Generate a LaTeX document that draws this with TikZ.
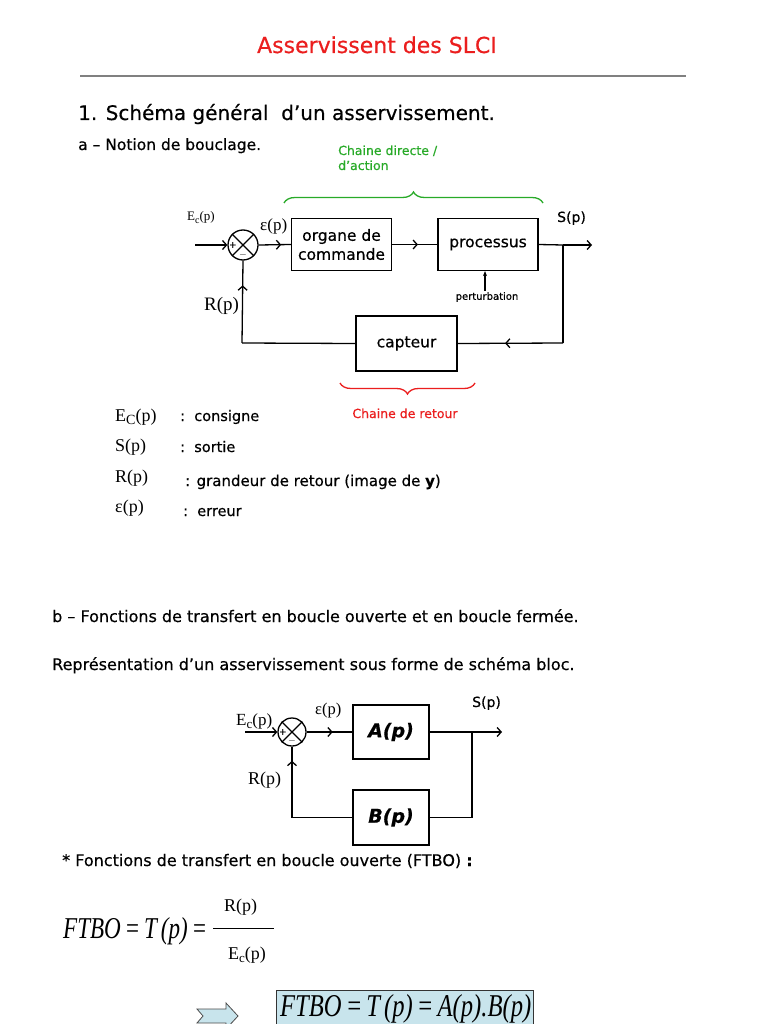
\documentclass[tikz,border=0pt]{standalone}
\usepackage{fontspec}
\setmainfont{DejaVu Sans}[FakeBold=0.5]
\newfontfamily\tm{Liberation Serif}
\usetikzlibrary{arrows.meta,decorations.pathreplacing,decorations.markings}
\definecolor{grn}{RGB}{40,170,40}
\definecolor{rd}{RGB}{235,30,30}
\definecolor{lblue}{RGB}{200,228,236}
\tikzset{
  blk/.style={draw,line width=1.2pt,minimum width=#1,inner sep=0pt,align=center,font=\fontsize{15.5}{19}\selectfont},
  blk/.default=100pt,
  sumj/.style={draw,circle,line width=1.3pt,minimum size=30pt,inner sep=0pt},
  wire/.style={line width=1.3pt},
  midarr/.style={wire,postaction={decorate},decoration={markings,mark=at position #1 with {\arrow{Straight Barb[length=4pt,width=9pt,line width=1.3pt]}}}},
  endarr/.style={wire,-{Straight Barb[length=4pt,width=9pt,line width=1.3pt]}},
  txt/.style={anchor=base west,inner sep=0pt,font=\fontsize{#1}{#1}\selectfont},
  tmx/.style={anchor=base west,inner sep=0pt,font=\tm\fontsize{#1}{#1}\selectfont},
}
\newcommand{\sumcross}[1]{%
  \draw[line width=1.3pt] (#1.north east) -- (#1.south west) (#1.north west) -- (#1.south east);
  \node[font=\fontsize{9}{9}\selectfont,inner sep=0pt] at ([xshift=5.5pt]#1.west) {+};
  \node[font=\fontsize{10}{10}\selectfont,inner sep=0pt] at ([yshift=5.5pt]#1.south) {$-$};
}
\begin{document}
\begin{tikzpicture}[x=1pt,y=-1pt]
\useasboundingbox (0,0) rectangle (768,1024);
\fill[white] (0,0) rectangle (768,1024);
% header
\node[anchor=base,inner sep=0pt,text=rd,font=\fontsize{22}{22}\selectfont] (title) at (377,53) {Asservissent des SLCI};
\coordinate (hl1) at (80,76); \coordinate (hl2) at (686,76);
\draw[gray,line width=2pt] (hl1) -- (hl2);
\node[txt=20] (h1) at (78,120) {1. Schéma général\ \ d’un asservissement.};
\node[txt=15.5] (ha) at (78,150) {a – Notion de bouclage.};
% diagram 1
\node[txt=12.5,text=grn] (gd1) at (338,155) {Chaine directe /};
\node[txt=12.5,text=grn] (gd2) at (338,170) {d’action};
\coordinate (gb1) at (284,203); \coordinate (gb2) at (543,203);
\draw[grn,line width=1.3pt,decorate,decoration={brace,amplitude=11pt}] (gb1) -- (gb2);
\node[sumj] (s1) at (243,245) {};
\sumcross{s1}
\coordinate (in1) at (195,245);
\draw[endarr] (in1) -- (s1.west);
\node[blk,minimum height=52pt] (org) at (341.5,244.5) {organe de\\commande};
\node[blk,minimum height=52pt] (proc) at (488,244.5) {processus};
\node[blk,minimum width=101pt,minimum height=55pt] (cap) at (406.5,343.5) {capteur};
\draw[midarr=0.7] (s1.east) -- (org.west);
\draw[midarr=0.57] (org.east) -- (proc.west);
\coordinate (br1) at (563,245); \coordinate (out1) at (592,245);
\draw[wire] (proc.east) -- (br1);
\draw[endarr] (br1) -- (out1);
\coordinate (c1) at (563,343);
\draw[wire] (br1) -- (c1);
\draw[midarr=0.55] (c1) -- (cap.east);
\coordinate (c2) at (242,343);
\draw[wire] (cap.west) -- (c2);
\draw[midarr=0.7] (c2) -- (s1.south);
\coordinate (pt) at (485,291);
\draw[wire,-{Stealth[length=5pt,width=4pt]}] (pt) -- (proc.south -| pt);
\node[anchor=north,inner sep=0pt,font=\fontsize{10}{10}\selectfont] (pl) at (487,292) {perturbation};
\node[tmx=13] (ec1) at (187,221) {E\raisebox{-3pt}{\fontsize{10}{10}\selectfont c}(p)};
\node[tmx=17] (eps1) at (260,231) {ε(p)};
\node[txt=14] (sp1) at (557,222) {S(p)};
\node[tmx=19] (rp1) at (204,310) {R(p)};
\coordinate (rb1) at (340,383); \coordinate (rb2) at (475,383);
\draw[rd,line width=1.3pt,decorate,decoration={brace,mirror,amplitude=11pt}] (rb1) -- (rb2);
\node[anchor=base,inner sep=0pt,text=rd,font=\fontsize{12.5}{12.5}\selectfont] (rt) at (405,418) {Chaine de retour};
% legend
\node[tmx=18] (l1) at (115,421) {E\raisebox{-3.5pt}{\fontsize{14}{14}\selectfont C}(p)};
\node[txt=14.5] (l1b) at (180,421) {:\ \ consigne};
\node[tmx=18] (l2) at (115,451) {S(p)};
\node[txt=14.5] (l2b) at (180,452) {:\ \ sortie};
\node[tmx=18] (l3) at (115,482) {R(p)};
\node[txt=15] (l3b) at (185,486) {: grandeur de retour (image de \textbf{y})};
\node[tmx=18] (l4) at (115,512) {ε(p)};
\node[txt=14.5] (l4b) at (183,516) {:\ \ erreur};
% section b
\node[txt=16] (hb) at (52,622) {b – Fonctions de transfert en boucle ouverte et en boucle fermée.};
\node[txt=16] (hr) at (52,670) {Représentation d’un asservissement sous forme de schéma bloc.};
% diagram 2
\node[sumj,minimum size=28pt] (s2) at (292,732) {};
\sumcross{s2}
\coordinate (in2) at (245,732);
\draw[endarr] (in2) -- (s2.west);
\node[blk,minimum width=76pt,minimum height=54pt,font=\bfseries\itshape\fontsize{19}{19}\selectfont] (A) at (391,732) {A(p)};
\node[blk,minimum width=76pt,minimum height=55pt,font=\bfseries\itshape\fontsize{19}{19}\selectfont] (B) at (391,817.5) {B(p)};
\draw[midarr=0.57] (s2.east) -- (A.west);
\coordinate (br2) at (472,732); \coordinate (out2) at (502,732);
\draw[wire] (A.east) -- (br2);
\draw[endarr] (br2) -- (out2);
\coordinate (c3) at (472,817.5);
\draw[wire] (br2) -- (c3) -- (B.east);
\coordinate (c4) at (292,817.5);
\draw[wire] (B.west) -- (c4);
\draw[midarr=0.8] (c4) -- (s2.south);
\node[tmx=17] (ec2) at (236,725) {E\raisebox{-3.5pt}{\fontsize{13}{13}\selectfont c}(p)};
\node[tmx=16.5] (eps2) at (315,714) {ε(p)};
\node[txt=14] (sp2) at (472,707) {S(p)};
\node[tmx=18] (rp2) at (248,784) {R(p)};
% FTBO
\node[txt=16] (hf) at (62,866) {* Fonctions de transfert en boucle ouverte (FTBO) \textbf{:}};
\node[anchor=base west,inner sep=0pt] (f1) at (63,938) {\resizebox{144pt}{21pt}{\tm\itshape FTBO\,=\,T\,(p)\,=}};
\coordinate (fr1) at (213,928); \coordinate (fr2) at (274,928);
\draw[line width=0.8pt] (fr1) -- (fr2);
\node[tmx=18] (fn) at (224,911) {R(p)};
\node[tmx=18] (fd) at (228,959) {E\raisebox{-3.5pt}{\fontsize{13}{13}\selectfont c}(p)};
\coordinate (a1) at (197,1009); \coordinate (a2) at (226,1009); \coordinate (a3) at (226,1003);
\coordinate (a4) at (238,1016); \coordinate (a5) at (226,1029); \coordinate (a6) at (226,1023);
\coordinate (a7) at (197,1023); \coordinate (a8) at (203,1016);
\draw[fill=lblue,draw=black!70,line width=0.8pt] (a1) -- (a2) -- (a3) -- (a4) -- (a5) -- (a6) -- (a7) -- (a8) -- cycle;
\node[draw=black!80,fill=lblue,line width=1pt,anchor=north west,minimum width=257pt,minimum height=50pt,inner sep=0pt] (res) at (276,990) {};
\node[anchor=base west,inner sep=0pt] (rtxt) at (280,1016) {\resizebox{251pt}{22pt}{\tm\itshape FTBO\,=\,T\,(p)\,=\,A(p).B(p)}};
\end{tikzpicture}
\end{document}
